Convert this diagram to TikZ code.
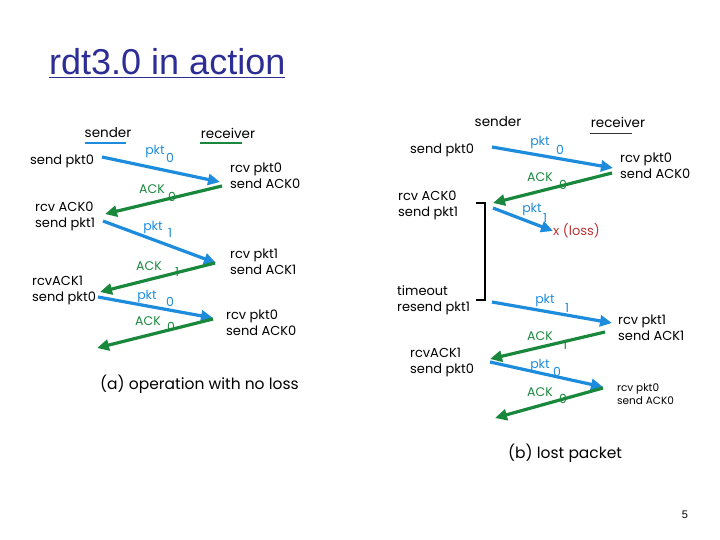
\documentclass[tikz,border=0pt]{standalone}
\usepackage{fontspec}
\setmainfont{Liberation Sans}
\newfontfamily\dg{Poppins}
\usetikzlibrary{arrows.meta}
\definecolor{ttl}{RGB}{45,45,150}
\definecolor{pb}{RGB}{30,140,220}
\definecolor{ag}{RGB}{25,135,60}
\definecolor{lr}{RGB}{190,50,50}
\begin{document}
\begin{tikzpicture}[x=1pt,y=-1pt,
  txt/.style={font=\dg\fontsize{13}{16}\selectfont, anchor=west, inner sep=0pt, align=left},
  smtxt/.style={font=\dg\fontsize{10.5}{13.5}\selectfont, anchor=west, inner sep=0pt, align=left},
  captxt/.style={font=\dg\fontsize{15.5}{18}\selectfont, anchor=west, inner sep=0pt},
  head/.style={font=\dg\fontsize{13.5}{16}\selectfont, inner sep=0pt},
  plab/.style={font=\dg\fontsize{12.5}{14}\selectfont, text=pb, inner sep=0pt},
  alab/.style={font=\dg\fontsize{12.5}{14}\selectfont, text=ag, inner sep=0pt},
  parr/.style={draw=pb, line width=3.2pt, -{Triangle[length=12pt,width=11pt]}},
  aarr/.style={draw=ag, line width=3.2pt, -{Triangle[length=12pt,width=11pt]}},
]
\useasboundingbox (0,0) rectangle (720,540);
% title
\node[font=\fontsize{36}{40}\selectfont, text=ttl, anchor=base west, inner sep=0pt] (title) at (49,75) {\underline{rdt3.0 in action}};

% ===== (a) =====
\node[head] (sa) at (108,133) {sender};
\node[head] (ra) at (228,133) {receiver};
\draw[pb, line width=2pt] (85,143) -- (126,143);
\draw[ag, line width=2pt] (200,143) -- (242,143);

\node[txt] (a1) at (30,161) {send pkt0};
\node[txt] (a2) at (230,176) {rcv pkt0\\send ACK0};
\node[txt] (a3) at (35,216) {rcv ACK0\\send pkt1};
\node[txt] (a4) at (230,262) {rcv pkt1\\send ACK1};
\node[txt] (a5) at (32,290) {rcvACK1\\send pkt0};
\node[txt] (a6) at (226,323) {rcv pkt0\\send ACK0};
\node[captxt] (ca) at (100,384) {(a) operation with no loss};

\coordinate (p1s) at (102,157); \coordinate (p1e) at (220,182);
\coordinate (q1s) at (222,186); \coordinate (q1e) at (105,214);
\coordinate (p2s) at (103,221); \coordinate (p2e) at (216,263);
\coordinate (q2s) at (215,263); \coordinate (q2e) at (100,292);
\coordinate (p3s) at (98,297);  \coordinate (p3e) at (213,318);
\coordinate (q3s) at (213,319); \coordinate (q3e) at (97,348);
\draw[parr] (p1s) -- (p1e);
\draw[aarr] (q1s) -- (q1e);
\draw[parr] (p2s) -- (p2e);
\draw[aarr] (q2s) -- (q2e);
\draw[parr] (p3s) -- (p3e);
\draw[aarr] (q3s) -- (q3e);

\node[plab] (l1) at (155,152) {pkt}; \node[plab] (l1s) at (170,158) {0};
\node[alab] (l2) at (152,189) {ACK}; \node[alab] (l2s) at (172,197) {0};
\node[plab] (l3) at (153,227) {pkt}; \node[plab] (l3s) at (170,233) {1};
\node[alab] (l4) at (149,266) {ACK}; \node[alab] (l4s) at (177,272) {1};
\node[plab] (l5) at (147,296) {pkt}; \node[plab] (l5s) at (170,302) {0};
\node[alab] (l6) at (148,321) {ACK}; \node[alab] (l6s) at (171,327) {0};

% ===== (b) =====
\node[head] (sb) at (498,122) {sender};
\node[head] (rb) at (618,122) {receiver};
\draw[black!80, line width=0.8pt] (590,133) -- (632,133);

\node[txt] (b1) at (410,150) {send pkt0};
\node[txt] (b2) at (620,166) {rcv pkt0\\send ACK0};
\node[txt] (b3) at (398,205) {rcv ACK0\\send pkt1};
\node[txt, text=lr] (loss) at (553,231) {x (loss)};
\node[txt] (b4) at (397,300) {timeout\\resend pkt1};
\node[txt] (b5) at (618,328) {rcv pkt1\\send ACK1};
\node[txt] (b6) at (410,362) {rcvACK1\\send pkt0};
\node[smtxt] (b7) at (617,394) {rcv pkt0\\send ACK0};
\node[captxt] (cb) at (508,453) {(b) lost packet};

\coordinate (t1) at (476,203); \coordinate (t2) at (485,203);
\coordinate (t3) at (485,300); \coordinate (t4) at (476,300);
\draw[black, line width=1.5pt] (t1) -- (t2) -- (t3) -- (t4);

\coordinate (bp1s) at (492,147); \coordinate (bp1e) at (613,168);
\coordinate (bq1s) at (612,173); \coordinate (bq1e) at (493,203);
\coordinate (bp2s) at (493,208);
\coordinate (bp3s) at (492,302); \coordinate (bp3e) at (612,323);
\coordinate (bq3s) at (605,332); \coordinate (bq3e) at (490,359);
\coordinate (bp4s) at (490,362); \coordinate (bp4e) at (603,387);
\coordinate (bq4s) at (603,388); \coordinate (bq4e) at (495,418);
\draw[parr] (bp1s) -- (bp1e);
\draw[aarr] (bq1s) -- (bq1e);
\draw[parr] (bp2s) -- (loss.west);
\draw[parr] (bp3s) -- (bp3e);
\draw[aarr] (bq3s) -- (bq3e);
\draw[parr] (bp4s) -- (bp4e);
\draw[aarr] (bq4s) -- (bq4e);

\node[plab] (m1) at (540,143) {pkt}; \node[plab] (m1s) at (560,150) {0};
\node[alab] (m2) at (540,177) {ACK}; \node[alab] (m2s) at (563,185) {0};
\node[plab] (m3) at (532,210) {pkt}; \node[plab] (m3s) at (545,218) {1};
\node[plab] (m4) at (545,300) {pkt}; \node[plab] (m4s) at (567,308) {1};
\node[alab] (m5) at (540,336) {ACK}; \node[alab] (m5s) at (565,345) {1};
\node[plab] (m6) at (540,365) {pkt}; \node[plab] (m6s) at (557,372) {0};
\node[alab] (m7) at (540,392) {ACK}; \node[alab] (m7s) at (563,399) {0};

\node[font=\fontsize{11}{13}\selectfont, inner sep=0pt] (pg) at (685,515) {5};
\end{tikzpicture}
\end{document}
